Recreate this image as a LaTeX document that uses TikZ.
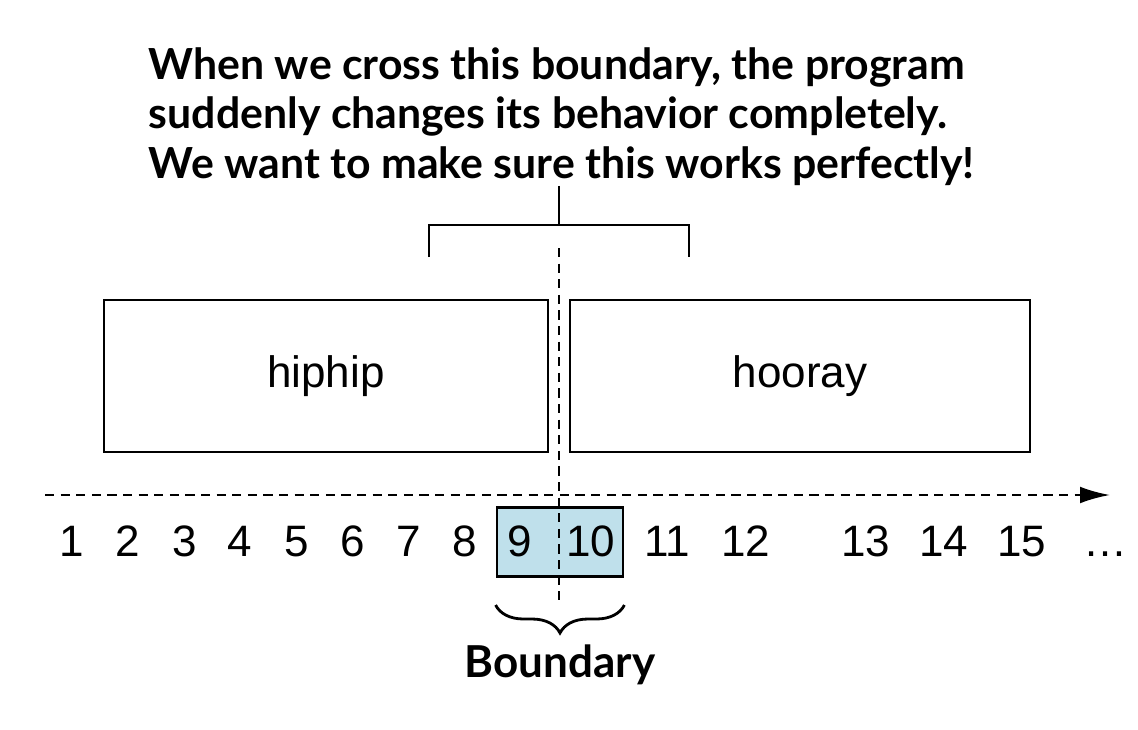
\documentclass[tikz,border=0pt]{standalone}
\usepackage{fontspec}
\setmainfont{Liberation Sans}
\newfontfamily\headfont{Lato}
\usetikzlibrary{arrows.meta, positioning, decorations.pathreplacing}
\definecolor{boundblue}{HTML}{BFE0EB}

\begin{document}
\begin{tikzpicture}[x=0.25pt, y=-0.25pt,
    numlabel/.style={font=\fontsize{11}{13}\selectfont, inner sep=0pt, anchor=base},
    block/.style={draw, line width=0.7pt, minimum height=38pt,
                  font=\fontsize{11}{13}\selectfont},
    guide/.style={line width=0.6pt, dash pattern=on 2.3pt off 1.6pt},
    headline/.style={font=\headfont\bfseries\fontsize{10.7}{12.3}\selectfont,
                     align=left, inner sep=0pt}
  ]
  \useasboundingbox (0,0) rectangle (1138,730);

  % Headline and bracket
  \node[headline, anchor=north west] (claim) at (148,47)
    {When we cross this boundary, the program\\
     suddenly changes its behavior completely.\\
     We want to make sure this works perfectly!};
  \coordinate (stem) at (559,225);
  \coordinate (legL) at (429,257);
  \coordinate (legR) at (689,257);
  \draw[line width=0.7pt] (claim.south -| stem) -- (stem);
  \draw[line width=0.7pt] (legL) |- (stem) -| (legR);

  % Blocks
  \node[block, minimum width=111pt] (hiphip) at (326,376) {hiphip};
  \node[block, minimum width=115pt] (hooray) at (800,376) {hooray};

  % Boundary window
  \node[draw, line width=0.7pt, fill=boundblue, minimum width=31.5pt,
        minimum height=17.25pt, inner sep=0pt] (window) at (560,542) {};

  % Number line
  \coordinate (axisL) at (45,495);
  \coordinate (axisR) at (1110,495);
  \draw[guide, -{Latex[length=7.5pt, width=4.2pt]}] (axisL) -- (axisR);
  \foreach \n/\x in {1/72, 2/128, 3/185, 4/240, 5/297, 6/353, 7/409, 8/465,
                     9/520, 10/591, 11/667, 12/746, 13/866, 14/944, 15/1022}
    \node[numlabel] (n\n) at (\x,556) {\n};
  \node[numlabel] (more) at (1105,556) {…};

  % Split line
  \coordinate (splitT) at (559,248);
  \coordinate (splitB) at (559,600);
  \draw[guide] (splitT) -- (splitB);

  % Brace
  \draw[line width=0.7pt, decorate, decoration={brace, mirror, amplitude=7pt}]
    (window.south west |- 0,605) -- (window.south east |- 0,605)
    node[midway, below=9.5pt, headline, font=\headfont\bfseries\fontsize{11}{13}\selectfont]
      (bndlabel) {Boundary};
\end{tikzpicture}
\end{document}
